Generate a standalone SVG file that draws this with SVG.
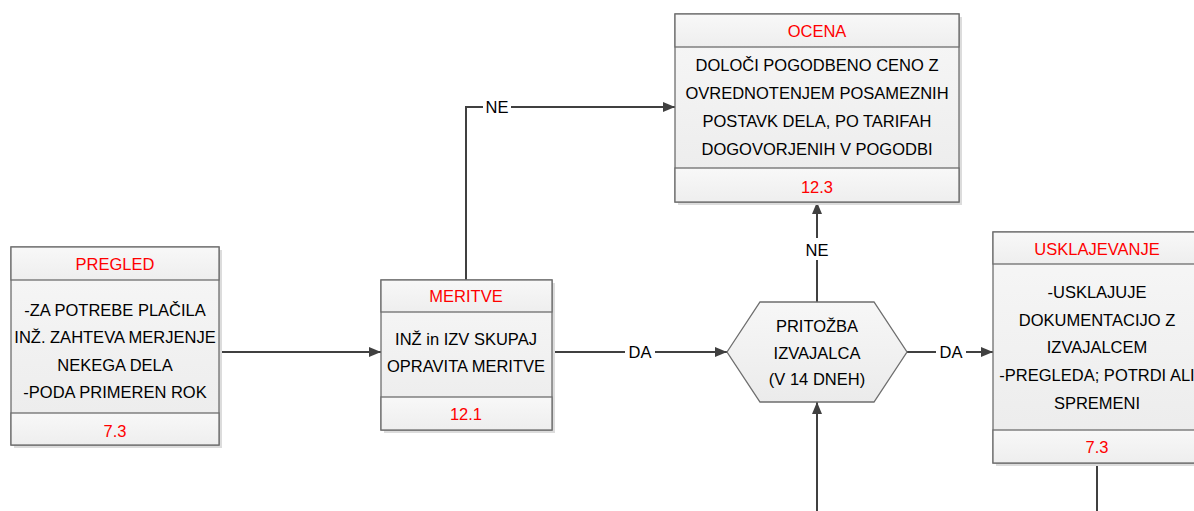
<svg xmlns="http://www.w3.org/2000/svg" width="1194" height="511" viewBox="0 0 1194 511">
  <style>
    .box { stroke: #6e6e6e; stroke-width: 1.3; }
    .body { fill: url(#bodyFill); }
    .hdr { fill: url(#hdrFill); }
    .shadow { fill: #dcdcdc; }
    .t { font-family: "Liberation Sans", Arial, sans-serif; font-size: 16.5px; text-anchor: middle; fill: #000; }
    .red { fill: #ff0000; }
    .conn { stroke: #404040; stroke-width: 2; fill: none; }
    .lbl { font-family: "Liberation Sans", Arial, sans-serif; font-size: 16.5px; text-anchor: middle; fill: #000; }
  </style>
  <defs>
    <linearGradient id="bodyFill" x1="0" y1="0" x2="0" y2="1">
      <stop offset="0" stop-color="#f7f7f7"/>
      <stop offset="1" stop-color="#ebebeb"/>
    </linearGradient>
    <linearGradient id="hdrFill" x1="0" y1="0" x2="0" y2="1">
      <stop offset="0" stop-color="#f8f8f8"/>
      <stop offset="1" stop-color="#eeeeee"/>
    </linearGradient>
    <marker id="arrow" viewBox="0 0 12 10" refX="12" refY="5" markerWidth="12" markerHeight="10" markerUnits="userSpaceOnUse" orient="auto">
      <path d="M0,0 L12,5 L0,10 z" fill="#404040"/>
    </marker>
  </defs>

  <rect width="1194" height="511" fill="#ffffff"/>

  <!-- connectors -->
  <g id="connectors">
    <line class="conn" x1="219" y1="352" x2="381" y2="352" marker-end="url(#arrow)"/>
    <polyline class="conn" points="466,280 466,107 675,107" marker-end="url(#arrow)"/>
    <line class="conn" x1="552" y1="352" x2="727" y2="352" marker-end="url(#arrow)"/>
    <line class="conn" x1="817" y1="302" x2="817" y2="202" marker-end="url(#arrow)"/>
    <line class="conn" x1="907" y1="352" x2="993" y2="352" marker-end="url(#arrow)"/>
    <line class="conn" x1="817" y1="511" x2="817" y2="402" marker-end="url(#arrow)"/>
    <line class="conn" x1="1097" y1="463" x2="1097" y2="511"/>
    <!-- connector labels -->
    <rect x="483" y="96" width="28" height="20" fill="#ffffff"/>
    <text class="lbl" x="497" y="113">NE</text>
    <rect x="625" y="341" width="30" height="20" fill="#ffffff"/>
    <text class="lbl" x="640" y="358">DA</text>
    <rect x="803" y="238" width="28" height="22" fill="#ffffff"/>
    <text class="lbl" x="817" y="256">NE</text>
    <rect x="936" y="341" width="30" height="20" fill="#ffffff"/>
    <text class="lbl" x="951" y="358">DA</text>
  </g>

  <!-- PREGLED -->
  <g id="pregled">
    <rect class="shadow" x="14" y="250" width="208" height="198"/>
    <rect class="box body" x="11" y="247" width="208" height="198"/>
    <rect class="box hdr" x="11" y="247" width="208" height="33"/>
    <rect class="box hdr" x="11" y="413" width="208" height="32"/>
    <text class="t red" x="115" y="270">PREGLED</text>
    <text class="t" x="115" y="316">-ZA POTREBE PLAČILA</text>
    <text class="t" x="115" y="343">INŽ. ZAHTEVA MERJENJE</text>
    <text class="t" x="115" y="371">NEKEGA DELA</text>
    <text class="t" x="115" y="398">-PODA PRIMEREN ROK</text>
    <text class="t red" x="115" y="437">7.3</text>
  </g>

  <!-- MERITVE -->
  <g id="meritve">
    <rect class="shadow" x="384" y="283" width="171" height="150"/>
    <rect class="box body" x="381" y="280" width="171" height="150"/>
    <rect class="box hdr" x="381" y="280" width="171" height="32"/>
    <rect class="box hdr" x="381" y="397" width="171" height="33"/>
    <text class="t red" x="466" y="302">MERITVE</text>
    <text class="t" x="466" y="345">INŽ in IZV SKUPAJ</text>
    <text class="t" x="466" y="372">OPRAVITA MERITVE</text>
    <text class="t red" x="466" y="420">12.1</text>
  </g>

  <!-- OCENA -->
  <g id="ocena">
    <rect class="shadow" x="678" y="17" width="284" height="188"/>
    <rect class="box body" x="675" y="14" width="284" height="188"/>
    <rect class="box hdr" x="675" y="14" width="284" height="33"/>
    <rect class="box hdr" x="675" y="168" width="284" height="34"/>
    <text class="t red" x="817" y="37">OCENA</text>
    <text class="t" x="817" y="71">DOLOČI POGODBENO CENO Z</text>
    <text class="t" x="817" y="99">OVREDNOTENJEM POSAMEZNIH</text>
    <text class="t" x="817" y="127">POSTAVK DELA, PO TARIFAH</text>
    <text class="t" x="817" y="155">DOGOVORJENIH V POGODBI</text>
    <text class="t red" x="817" y="193">12.3</text>
  </g>

  <!-- PRITOŽBA IZVAJALCA -->
  <g id="pritozba">
    <polygon class="box body" points="727,352 760,302 874,302 907,352 874,402 760,402"/>
    <text class="t" x="817" y="332">PRITOŽBA</text>
    <text class="t" x="817" y="359">IZVAJALCA</text>
    <text class="t" x="817" y="385">(V 14 DNEH)</text>
  </g>

  <!-- USKLAJEVANJE -->
  <g id="usklajevanje">
    <rect class="shadow" x="996" y="235" width="208" height="231"/>
    <rect class="box body" x="993" y="232" width="208" height="231"/>
    <rect class="box hdr" x="993" y="232" width="208" height="32"/>
    <rect class="box hdr" x="993" y="430" width="208" height="33"/>
    <text class="t red" x="1097" y="255">USKLAJEVANJE</text>
    <text class="t" x="1097" y="298">-USKLAJUJE</text>
    <text class="t" x="1097" y="326">DOKUMENTACIJO Z</text>
    <text class="t" x="1097" y="353">IZVAJALCEM</text>
    <text class="t" x="1097" y="381">-PREGLEDA; POTRDI ALI</text>
    <text class="t" x="1097" y="409">SPREMENI</text>
    <text class="t red" x="1097" y="453">7.3</text>
  </g>
</svg>
